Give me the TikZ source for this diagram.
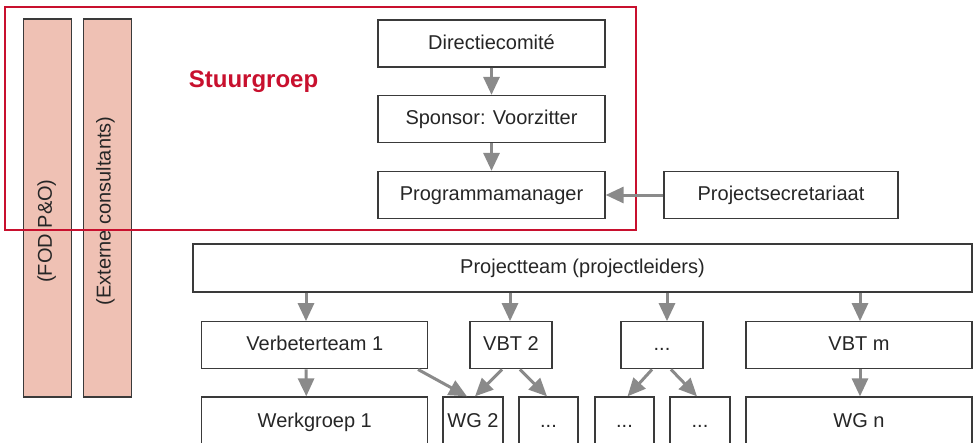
\documentclass[tikz,border=0pt]{standalone}
\usepackage{fontspec}
\setmainfont{Liberation Sans}
\usetikzlibrary{arrows.meta}
\definecolor{sgred}{HTML}{C8102E}
\definecolor{barfill}{HTML}{EFC1B4}
\definecolor{boxline}{HTML}{3A3A3A}
\definecolor{arrgray}{HTML}{8A8A8A}
\definecolor{txt}{HTML}{262626}
\tikzset{
  box/.style={draw=boxline, line width=1.3pt, fill=white, inner sep=0pt,
    text=txt, font=\fontsize{20}{24}\selectfont,
    text height=14pt, text depth=3pt},
  lowbox/.style={box, minimum height=60pt, text depth=14pt},
  bar/.style={draw=boxline, line width=1.3pt, fill=barfill, inner sep=0pt},
  bartext/.style={rotate=90, text=txt, font=\fontsize{20}{24}\selectfont, inner sep=0pt},
  arr/.style={draw=arrgray, line width=3pt, -{Triangle[length=18pt,width=16pt]}},
}
\begin{document}
\begin{tikzpicture}[x=1pt, y=-1pt]
\useasboundingbox (0,0) rectangle (977,442);
\clip (0,0) rectangle (977,442);

% side bars
\node[bar, minimum width=48pt, minimum height=378pt] (fod) at (47.6,208) {};
\node[bar, minimum width=48pt, minimum height=378pt] (ext) at (107.5,208) {};
\node[bartext] (fodt) at (46.7,231) {(FOD P\&O)};
\node[bartext] (extt) at (105.5,211) {(Externe consultants)};

% steering group
\node[box, minimum width=227pt, minimum height=47pt] (dir) at (491.5,43.5) {Directiecomité};
\node[box, minimum width=227pt, minimum height=47pt] (spon) at (491.5,119) {Sponsor: Voorzitter};
\node[box, minimum width=227pt, minimum height=47pt] (pm) at (491.5,195) {Programmamanager};
\node[box, minimum width=234pt, minimum height=47pt] (psec) at (781,195) {Projectsecretariaat};

\draw[draw=sgred, line width=2.6pt] (5,7) rectangle (636,230);
\node[anchor=base, text=sgred, inner sep=0pt,
  font=\fontsize{24}{28}\selectfont\bfseries] (sg) at (253.5,87.5) {Stuurgroep};

% project team
\node[box, minimum width=779pt, minimum height=48pt] (pt) at (582.5,268) {Projectteam (projectleiders)};

% improvement teams
\node[box, minimum width=226pt, minimum height=47pt] (vt1) at (314.8,345.3) {Verbeterteam 1};
\node[box, minimum width=82pt, minimum height=47pt] (vbt2) at (511,345.3) {VBT 2};
\node[box, minimum width=82pt, minimum height=47pt] (vdots) at (662,345.3) {...};
\node[box, minimum width=226pt, minimum height=47pt] (vbtm) at (859,345.3) {VBT m};

% working groups
\node[lowbox, minimum width=226pt] (wg1) at (314.8,427) {Werkgroep 1};
\node[lowbox, minimum width=60pt] (wg2) at (473,427) {WG 2};
\node[lowbox, minimum width=59pt] (d1) at (548.5,427) {...};
\node[lowbox, minimum width=59pt] (d2) at (624.5,427) {...};
\node[lowbox, minimum width=60pt] (d3) at (700,427) {...};
\node[lowbox, minimum width=226pt] (wgn) at (859,427) {WG n};

% connectors
\draw[arr] (dir.south) -- (spon.north);
\draw[arr] (spon.south) -- (pm.north);
\draw[arr] (psec.west) -- (pm.east);

\draw[arr] ([xshift=-276.5pt]pt.south) -- ([xshift=-8.8pt]vt1.north);
\draw[arr] ([xshift=-72.5pt]pt.south) -- ([xshift=-1pt]vbt2.north);
\draw[arr] ([xshift=84.5pt]pt.south) -- ([xshift=5pt]vdots.north);
\draw[arr] ([xshift=277.5pt]pt.south) -- ([xshift=1pt]vbtm.north);

\draw[arr] ([xshift=-8.8pt]vt1.south) -- ([xshift=-8.5pt]wg1.north);
\draw[arr] ([xshift=103.2pt]vt1.south) -- ([xshift=-6pt]wg2.north);
\draw[arr] ([xshift=-9pt]vbt2.south) -- ([xshift=2pt]wg2.north);
\draw[arr] ([xshift=9pt]vbt2.south) -- ([xshift=-1.5pt]d1.north);
\draw[arr] ([xshift=-10pt]vdots.south) -- ([xshift=3pt]d2.north);
\draw[arr] ([xshift=9pt]vdots.south) -- ([xshift=-3pt]d3.north);
\draw[arr] ([xshift=1pt]vbtm.south) -- ([xshift=1pt]wgn.north);
\end{tikzpicture}
\end{document}
